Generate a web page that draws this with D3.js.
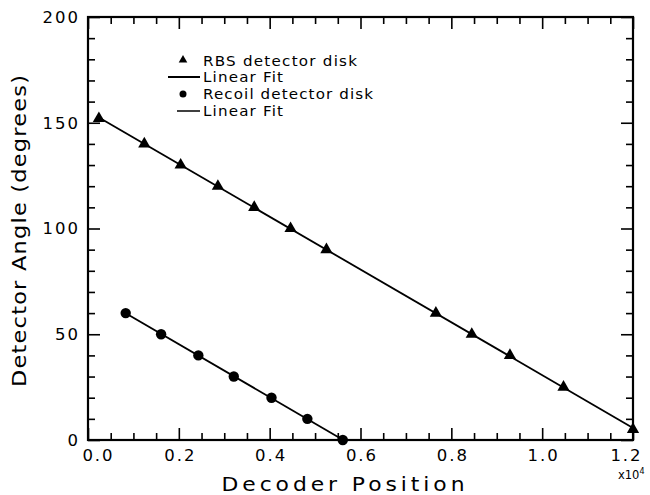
<!DOCTYPE html>
<html>
<head>
<meta charset="utf-8">
<script src="https://cdn.jsdelivr.net/npm/d3@7"></script>
<style>
  body { margin: 0; background: #fff; }
  svg { display: block; font-family: "DejaVu Sans", sans-serif; }
</style>
</head>
<body>
<svg width="650" height="495"></svg>
<script>
// decoder position (x10^4) and detector angle (degrees)
const rbsX = [0.024, 0.124, 0.204, 0.286, 0.366, 0.446, 0.525, 0.766, 0.845, 0.929, 1.047, 1.2];
const rbsY = [152, 140, 130, 120, 110, 100, 90, 60, 50, 40, 25, 5];
const recoilX = [0.083, 0.161, 0.243, 0.321, 0.404, 0.483, 0.561];
const recoilY = [60, 50, 40, 30, 20, 10, 0];

const xTicks = [0, 0.2, 0.4, 0.6, 0.8, 1.0, 1.2];
const yTicks = [0, 50, 100, 150, 200];
const legendLabels = ["RBS detector disk", "Linear Fit", "Recoil detector disk", "Linear Fit"];

const svg = d3.select("svg");
const pLeft = 88, pRight = 633, pTop = 17, pBottom = 440;

const x = d3.scaleLinear().domain([0, 1.2]).range([pLeft, pRight]);
const y = d3.scaleLinear().domain([0, 200]).range([pBottom, pTop]);

// least squares fit
function fit(xs, ys) {
  const mx = d3.mean(xs), my = d3.mean(ys);
  let sxy = 0, sxx = 0;
  xs.forEach((v, i) => { sxy += (v - mx) * (ys[i] - my); sxx += (v - mx) * (v - mx); });
  const b = sxy / sxx;
  return v => my + b * (v - mx);
}

// minor ticks
const xMinor = d3.range(0, 1.2001, 0.05).filter(v => Math.abs(v / 0.2 - Math.round(v / 0.2)) > 1e-6);
const yMinor = d3.range(0, 200.1, 10).filter(v => v % 50 !== 0);

function styleAxis(g) {
  g.select(".domain").remove();
  g.selectAll(".tick line").attr("stroke", "#000").attr("stroke-width", 1.6);
  g.selectAll(".tick text").attr("fill", "#000").attr("font-size", 16.5)
    .attr("letter-spacing", 2).attr("font-family", "DejaVu Sans");
}

// bottom
const xAxisG = svg.append("g").attr("transform", `translate(0,${pBottom})`)
  .call(d3.axisBottom(x).tickValues(xTicks).tickFormat(d3.format(".1f")).tickSize(-12).tickPadding(9))
  .call(styleAxis);
// end labels sit a little inside, as in the original
xAxisG.selectAll(".tick text").attr("dx", (d, i) => i === 0 ? 10 : (i === xTicks.length - 1 ? -7 : 1));
svg.append("g").attr("transform", `translate(0,${pBottom})`)
  .call(d3.axisBottom(x).tickValues(xMinor).tickFormat("").tickSize(-7))
  .call(styleAxis);
// top
svg.append("g").attr("transform", `translate(0,${pTop})`)
  .call(d3.axisTop(x).tickValues(xTicks).tickFormat("").tickSize(-12))
  .call(styleAxis);
svg.append("g").attr("transform", `translate(0,${pTop})`)
  .call(d3.axisTop(x).tickValues(xMinor).tickFormat("").tickSize(-7))
  .call(styleAxis);
// left
svg.append("g").attr("transform", `translate(${pLeft},0)`)
  .call(d3.axisLeft(y).tickValues(yTicks).tickSize(-12).tickPadding(8))
  .call(styleAxis);
svg.append("g").attr("transform", `translate(${pLeft},0)`)
  .call(d3.axisLeft(y).tickValues(yMinor).tickFormat("").tickSize(-7))
  .call(styleAxis);
// right
svg.append("g").attr("transform", `translate(${pRight},0)`)
  .call(d3.axisRight(y).tickValues(yTicks).tickFormat("").tickSize(-12))
  .call(styleAxis);
svg.append("g").attr("transform", `translate(${pRight},0)`)
  .call(d3.axisRight(y).tickValues(yMinor).tickFormat("").tickSize(-7))
  .call(styleAxis);

// frame
svg.append("rect")
  .attr("x", pLeft).attr("y", pTop)
  .attr("width", pRight - pLeft).attr("height", pBottom - pTop)
  .attr("fill", "none").attr("stroke", "#000").attr("stroke-width", 2.2);

// fit lines
const line = d3.line().x(d => x(d[0])).y(d => y(d[1]));
const rbsFit = fit(rbsX, rbsY);
const recFit = fit(recoilX, recoilY);
const rbsEnds = [d3.min(rbsX), 1.2];
const recEnds = [d3.min(recoilX), d3.max(recoilX)];

svg.append("path")
  .attr("d", line(rbsEnds.map(v => [v, rbsFit(v)])))
  .attr("fill", "none").attr("stroke", "#000").attr("stroke-width", 1.8);
svg.append("path")
  .attr("d", line(recEnds.map(v => [v, recFit(v)])))
  .attr("fill", "none").attr("stroke", "#000").attr("stroke-width", 1.8);

// markers
const tri = d3.symbol().type(d3.symbolTriangle).size(65);
svg.append("g").selectAll("path")
  .data(rbsX.map((v, i) => [v, rbsY[i]]))
  .join("path")
  .attr("d", tri)
  .attr("transform", d => `translate(${x(d[0])},${y(d[1])})`)
  .attr("fill", "#000");

svg.append("g").selectAll("circle")
  .data(recoilX.map((v, i) => [v, recoilY[i]]))
  .join("circle")
  .attr("cx", d => x(d[0]))
  .attr("cy", d => y(d[1]))
  .attr("r", 5.2)
  .attr("fill", "#000");

// legend
const leg = svg.append("g").attr("font-size", 13.5).attr("fill", "#000");
leg.append("path").attr("d", d3.symbol().type(d3.symbolTriangle).size(32))
  .attr("transform", "translate(183,60)");
leg.append("line").attr("x1", 168).attr("x2", 200).attr("y1", 77).attr("y2", 77)
  .attr("stroke", "#000").attr("stroke-width", 2);
leg.append("circle").attr("cx", 183).attr("cy", 94).attr("r", 3.5);
leg.append("line").attr("x1", 177).attr("x2", 200).attr("y1", 111).attr("y2", 111)
  .attr("stroke", "#000").attr("stroke-width", 1.5);
const legY = [66, 82, 99, 116];
const legW = [154, 80, 170, 80];
leg.selectAll("text")
  .data(legendLabels)
  .join("text")
  .attr("transform", (d, i) => `translate(203,${legY[i]}) scale(1.12,1)`)
  .attr("textLength", (d, i) => legW[i] / 1.12)
  .attr("lengthAdjust", "spacing")
  .text(d => d);

// axis titles (stretched a bit: the original face is wide)
svg.append("text")
  .attr("transform", "translate(343,491) scale(1.15,1)")
  .attr("text-anchor", "middle")
  .attr("font-size", 19)
  .attr("textLength", 243 / 1.15).attr("lengthAdjust", "spacing")
  .text("Decoder Position");

svg.append("text")
  .attr("transform", "translate(26,231) rotate(-90) scale(1.15,1)")
  .attr("text-anchor", "middle")
  .attr("font-size", 19.5)
  .attr("textLength", 312 / 1.15).attr("lengthAdjust", "spacing")
  .text("Detector Angle (degrees)");

// exponent
const ex = svg.append("text").attr("x", 618).attr("y", 479).attr("font-size", 11.5);
ex.append("tspan").text("x10");
ex.append("tspan").attr("dy", -5).attr("font-size", 8).text("4");
</script>
</body>
</html>
